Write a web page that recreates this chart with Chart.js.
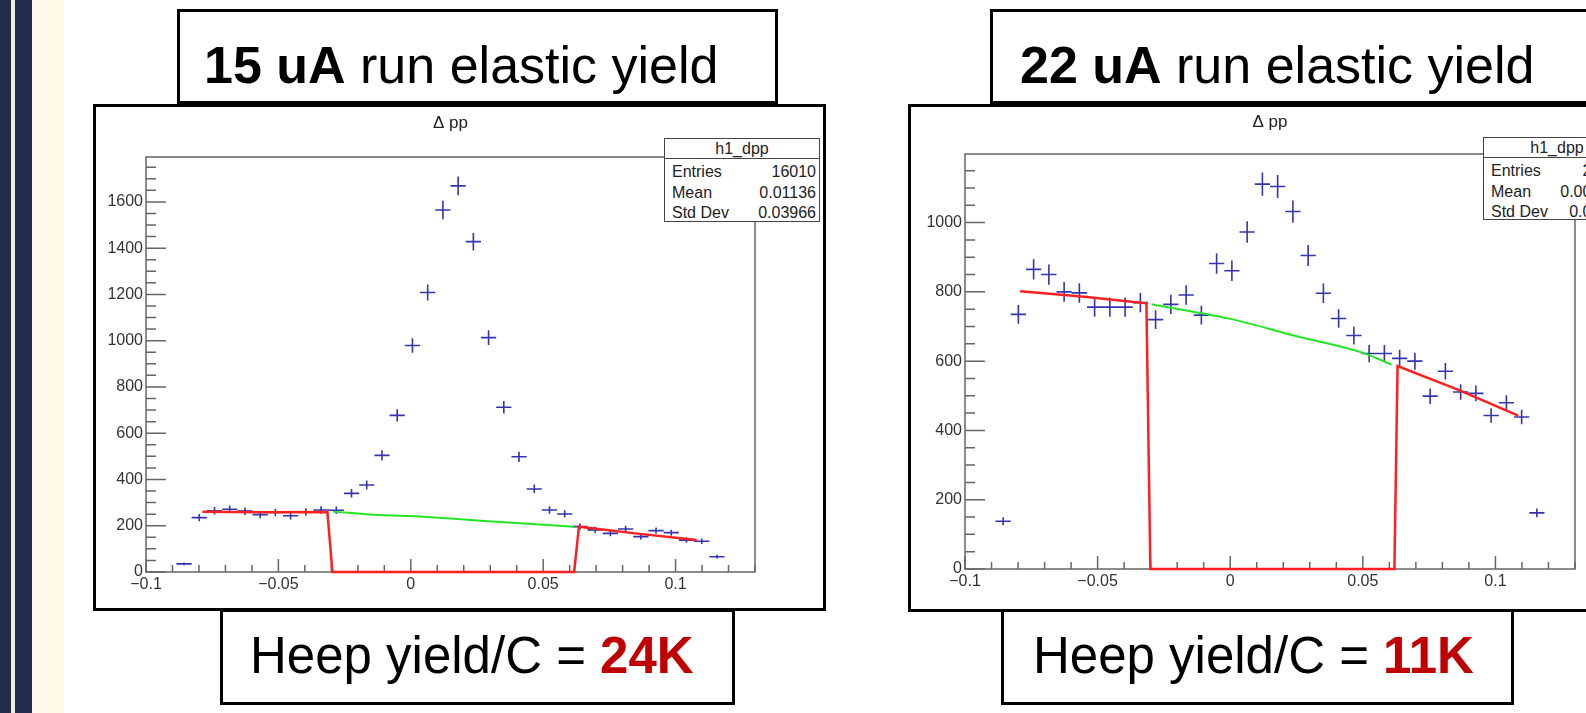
<!DOCTYPE html>
<html><head><meta charset="utf-8">
<script src="https://cdn.jsdelivr.net/npm/chart.js@4.4.1/dist/chart.umd.min.js"></script>
<style>
html,body{margin:0;padding:0;width:1586px;height:713px;overflow:hidden;background:#fff;font-family:"Liberation Sans",Arial,sans-serif;}
.abs{position:absolute;}
.box{position:absolute;border:3px solid #000;background:#fff;box-sizing:border-box;}
.frame{position:absolute;border:3px solid #000;box-sizing:border-box;pointer-events:none;}
.cv{position:absolute;}
.ttl{position:absolute;font-size:52px;line-height:52px;letter-spacing:0px;color:#000;white-space:nowrap;}
.btm{position:absolute;font-size:51px;line-height:51px;letter-spacing:0px;color:#000;white-space:nowrap;}
.btm b{color:#c00000;}
.stats{position:absolute;border:1px solid #444;background:#fff;box-sizing:border-box;font-size:16px;color:#222;}
.stats .hdr{height:19px;line-height:20px;text-align:center;border-bottom:1px solid #444;}
.stats .rows{padding-top:3px;}
.stats .row{height:20.5px;line-height:20.5px;display:flex;justify-content:space-between;padding:0 3px 0 7px;white-space:nowrap;}
</style></head><body>

<div class="abs" style="left:0;top:0;width:32px;height:713px;background:#232b4b"></div>
<div class="abs" style="left:11px;top:0;width:4px;height:713px;background:#f3efe0"></div>
<div class="abs" style="left:32px;top:0;width:32px;height:713px;background:#fffaea"></div>

<canvas id="cL" class="cv" width="733" height="507" style="left:93px;top:104px"></canvas>
<div class="frame" style="left:93px;top:104px;width:733px;height:507px"></div>
<canvas id="cR" class="cv" width="740" height="508" style="left:908px;top:104px"></canvas>
<div class="frame" style="left:908px;top:104px;width:740px;height:508px"></div>

<div class="stats" style="left:664px;top:138px;width:156px;height:84px">
  <div class="hdr">h1_dpp</div>
  <div class="rows">
    <div class="row"><span>Entries</span><span id="sL0"></span></div>
    <div class="row"><span>Mean</span><span id="sL1"></span></div>
    <div class="row"><span>Std Dev</span><span id="sL2"></span></div>
  </div>
</div>
<div class="stats" style="left:1483px;top:137px;width:148px;height:83px">
  <div class="hdr">h1_dpp</div>
  <div class="rows">
    <div class="row"><span>Entries</span><span id="sR0"></span></div>
    <div class="row"><span>Mean</span><span id="sR1"></span></div>
    <div class="row"><span>Std Dev</span><span id="sR2"></span></div>
  </div>
</div>

<div class="box" style="left:177px;top:9px;width:601px;height:95px"></div>
<div class="ttl" style="left:204px;top:39px"><b>15 uA</b> run elastic yield</div>
<div class="box" style="left:990px;top:9px;width:700px;height:95px"></div>
<div class="ttl" style="left:1020px;top:39px"><b>22 uA</b> run elastic yield</div>

<div class="box" style="left:220px;top:609px;width:515px;height:96px"></div>
<div class="btm" style="left:250px;top:630px">Heep yield/C = <b>24K</b></div>
<div class="box" style="left:1001px;top:609px;width:513px;height:96px"></div>
<div class="btm" style="left:1033px;top:630px">Heep yield/C = <b>11K</b></div>

<script>
// ---- data ----
const binWidth = 0.00575;
const binCenters = [-0.08563,-0.07988,-0.07413,-0.06838,-0.06263,-0.05688,-0.05113,-0.04538,-0.03963,-0.03388,
  -0.02813,-0.02238,-0.01663,-0.01088,-0.00513,0.00063,0.00638,0.01213,0.01788,0.02363,
  0.02938,0.03513,0.04088,0.04663,0.05238,0.05813,0.06388,0.06963,0.07538,0.08113,
  0.08688,0.09263,0.09838,0.10413,0.10988,0.11563];
const countsL = [35,235,265,271,263,248,257,243,259,268,267,340,376,504,677,979,1208,1565,1669,1428,
  1013,712,498,359,268,251,196,182,167,186,153,179,170,138,133,66];
const countsR = [138,735,865,850,800,797,756,756,756,769,720,764,791,733,882,861,973,1111,1104,1032,
  905,796,723,674,622,622,608,600,499,571,511,507,443,480,439,162];

const fitRedXL = [-0.0787,-0.055,-0.0315,-0.0296,0.0617,0.0635,0.0848,0.108];
const fitRedYL = [260,258,259,0,0,196,167,138];
const fitGreenXL = [-0.0294,-0.0117,0.0034,0.031,0.0617];
const fitGreenYL = [261,246,240,218,196];

const fitRedXR = [-0.0792,-0.055,-0.0316,-0.0301,0.0619,0.0631,0.0858,0.1086];
const fitRedYR = [802,786,767,0,0,586,518,443];
const fitGreenXR = [-0.0297,0,0.025,0.0501,0.0608];
const fitGreenYR = [764,722,672,624,590];

const statsL = ['16010','0.01136','0.03966'];
const statsR = ['25355','0.007291','0.05514'];

const xTickValues = [-0.1,-0.05,0,0.05,0.1];
const xTickLabels = ['\u22120.1','\u22120.05','0','0.05','0.1'];
const yTicksL = [0,200,400,600,800,1000,1200,1400,1600];
const yTicksR = [0,200,400,600,800,1000];
const histTitle = '\u0394 pp';
const xMin = -0.1, xMax = 0.13, xMinorStep = 0.01, yMinorStep = 50;
const yMaxL = 1794, yMaxR = 1198;

['sL0','sL1','sL2'].forEach((id,i)=>document.getElementById(id).textContent=statsL[i]);
['sR0','sR1','sR2'].forEach((id,i)=>document.getElementById(id).textContent=statsR[i]);

const FONT = "'Liberation Sans', Arial, sans-serif";
Chart.defaults.font.family = FONT;
Chart.defaults.font.size = 16;
Chart.defaults.color = '#333';

const rootAxes = {
  id:'rootAxes',
  beforeDatasetsDraw(chart){
    const {ctx, chartArea:a, scales:{x,y}} = chart;
    ctx.save();
    ctx.strokeStyle = '#666'; ctx.lineWidth = 1.5;
    ctx.strokeRect(a.left, a.top, a.right-a.left, a.bottom-a.top);
    ctx.beginPath();
    for (let v = xMin; v <= xMax+1e-9; v += xMinorStep) {
      const vv = Math.round(v*1000)/1000;
      const major = xTickValues.some(t=>Math.abs(t-vv)<1e-6);
      const px = x.getPixelForValue(vv);
      ctx.moveTo(px, a.bottom); ctx.lineTo(px, a.bottom - (major?13:7));
    }
    const yMajor = chart.options.plugins.rootAxes.yTicks;
    for (let v = 0; v <= y.max; v += yMinorStep) {
      const major = yMajor.includes(v);
      const py = y.getPixelForValue(v);
      ctx.moveTo(a.left, py); ctx.lineTo(a.left + (major?20:10), py);
    }
    ctx.stroke();
    // error bars (ROOT "E" style crosses)
    ctx.strokeStyle = '#3434b0'; ctx.lineWidth = 1.6;
    chart.data.datasets.forEach(ds=>{
      if (!ds.errorBars) return;
      ctx.beginPath();
      ds.data.forEach(p=>{
        const e = Math.sqrt(p.y);
        const xl = x.getPixelForValue(p.x - binWidth/2), xr = x.getPixelForValue(p.x + binWidth/2);
        const px = x.getPixelForValue(p.x), py = y.getPixelForValue(p.y);
        ctx.moveTo(xl, py); ctx.lineTo(xr, py);
        ctx.moveTo(px, y.getPixelForValue(p.y + e)); ctx.lineTo(px, y.getPixelForValue(p.y - e));
      });
      ctx.stroke();
    });
    ctx.restore();
  },
  afterDraw(chart){
    const {ctx, chartArea:a} = chart;
    const o = chart.options.plugins.rootAxes;
    ctx.save();
    ctx.fillStyle = '#222'; ctx.font = '17px ' + FONT;
    ctx.textAlign = 'center'; ctx.textBaseline = 'alphabetic';
    ctx.fillText(histTitle, (a.left+a.right)/2, o.titleY);
    ctx.restore();
  }
};

function makeChart(id, counts, rx, ry, gx, gy, yMax, yTicks, L) {
  return new Chart(document.getElementById(id), {
    type: 'scatter',
    data: { datasets: [
      { label:'h1_dpp', data: binCenters.map((c,i)=>({x:c, y:counts[i]})), pointRadius:0, showLine:false, errorBars:true },
      { label:'fit', data: rx.map((v,i)=>({x:v, y:ry[i]})), showLine:true, borderColor:'#ff1f1f', borderWidth:2.5, pointRadius:0, tension:0, clip:false },
      { label:'background', data: gx.map((v,i)=>({x:v, y:gy[i]})), showLine:true, borderColor:'#22e622', borderWidth:2, pointRadius:0, cubicInterpolationMode:'monotone', clip:false }
    ]},
    options: {
      responsive:false, animation:false, events:[],
      layout:{ padding:{ left:0, top:L.top, right:L.right, bottom:0 } },
      plugins:{ legend:{display:false}, tooltip:{enabled:false}, rootAxes:{ yTicks: yTicks, titleY: L.titleY } },
      scales:{
        x:{ type:'linear', min:xMin, max:xMax,
            afterBuildTicks: s=>{ s.ticks = xTickValues.map(v=>({value:v})); },
            ticks:{ callback:(v,i)=>xTickLabels[i], autoSkip:false, maxRotation:0, minRotation:0, padding:3,
                    color:'#333', font:{size:16} },
            grid:{ display:false, drawTicks:false }, border:{ display:false },
            afterFit: s=>{ s.height = L.xh; s.paddingLeft = 0; s.paddingRight = 0; } },
        y:{ type:'linear', min:0, max:yMax,
            afterBuildTicks: s=>{ s.ticks = yTicks.map(v=>({value:v})); },
            ticks:{ autoSkip:false, padding:3, color:'#333', font:{size:16}, callback:v=>String(v) },
            grid:{ display:false, drawTicks:false }, border:{ display:false },
            afterFit: s=>{ s.width = L.yw; s.paddingTop = 0; s.paddingBottom = 0; } }
      }
    },
    plugins:[rootAxes]
  });
}

makeChart('cL', countsL, fitRedXL, fitRedYL, fitGreenXL, fitGreenYL, yMaxL, yTicksL,
  { top:53, right:71, xh:39, yw:53, titleY:24 });
makeChart('cR', countsR, fitRedXR, fitRedYR, fitGreenXR, fitGreenYR, yMaxR, yTicksR,
  { top:50, right:73, xh:43, yw:57, titleY:23 });
</script>
</body></html>
